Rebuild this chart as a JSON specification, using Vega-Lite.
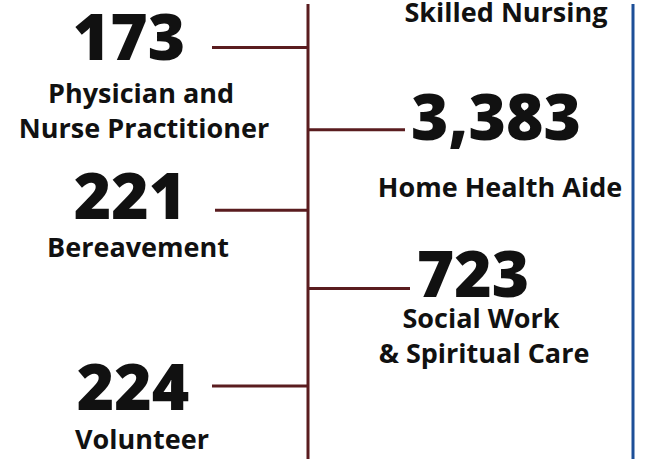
{
  "$schema": "https://vega.github.io/schema/vega-lite/v6.json",
  "width": 645,
  "height": 461,
  "autosize": {"type": "fit", "contains": "padding"},
  "padding": 0,
  "background": "white",
  "config": {"view": {"stroke": null}},
  "datasets": {
    "roles": [
      {"role": "Skilled Nursing", "count": null, "side": "right", "step": 0, "reach": 1.0},
      {"role": "Physician and Nurse Practitioner", "count": 173, "side": "left", "step": 1, "reach": -0.96},
      {"role": "Home Health Aide", "count": 3383, "side": "right", "step": 2.02, "reach": 0.97},
      {"role": "Bereavement", "count": 221, "side": "left", "step": 3.02, "reach": -0.93},
      {"role": "Social Work & Spiritual Care", "count": 723, "side": "right", "step": 3.99, "reach": 1.02},
      {"role": "Volunteer", "count": 224, "side": "left", "step": 5.2, "reach": -0.96}
    ],
    "texts": [
      {"role": "Skilled Nursing", "kind": "label", "text": "Skilled Nursing", "x": 1.98, "y": 0.69},
      {"role": "Physician and Nurse Practitioner", "kind": "number", "text": "173", "x": -1.79, "y": 1.159},
      {"role": "Physician and Nurse Practitioner", "kind": "label", "text": "Physician and", "x": -1.67, "y": 1.686},
      {"role": "Physician and Nurse Practitioner", "kind": "label", "text": "Nurse Practitioner", "x": -1.64, "y": 2.126},
      {"role": "Home Health Aide", "kind": "number", "text": "3,383", "x": 1.88, "y": 2.151},
      {"role": "Home Health Aide", "kind": "label", "text": "Home Health Aide", "x": 1.92, "y": 2.861},
      {"role": "Bereavement", "kind": "number", "text": "221", "x": -1.78, "y": 3.13},
      {"role": "Bereavement", "kind": "label", "text": "Bereavement", "x": -1.7, "y": 3.596},
      {"role": "Social Work & Spiritual Care", "kind": "number", "text": "723", "x": 1.65, "y": 4.098},
      {"role": "Social Work & Spiritual Care", "kind": "label", "text": "Social Work", "x": 1.73, "y": 4.477},
      {"role": "Social Work & Spiritual Care", "kind": "label", "text": "& Spiritual Care", "x": 1.76, "y": 4.918},
      {"role": "Volunteer", "kind": "number", "text": "224", "x": -1.75, "y": 5.494},
      {"role": "Volunteer", "kind": "label", "text": "Volunteer", "x": -1.66, "y": 5.983}
    ],
    "lines": [
      {"name": "timeline", "pos": 0},
      {"name": "border", "pos": 3.25}
    ]
  },
  "layer": [
    {
      "data": {"name": "lines"},
      "transform": [{"filter": "datum.name === 'timeline'"}],
      "mark": {"type": "rule", "color": "#5a1c1f", "strokeWidth": 3},
      "encoding": {
        "x": {"field": "pos", "type": "quantitative", "scale": {"domain": [-3.08, 3.37], "nice": false, "zero": false}, "axis": null}
      }
    },
    {
      "data": {"name": "lines"},
      "transform": [{"filter": "datum.name === 'border'"}],
      "mark": {"type": "rule", "color": "#1d4f98", "strokeWidth": 3},
      "encoding": {
        "x": {"field": "pos", "type": "quantitative", "axis": null}
      }
    },
    {
      "data": {"name": "roles"},
      "transform": [{"filter": "datum.count != null"}, {"calculate": "0", "as": "spine"}],
      "mark": {"type": "rule", "color": "#5a1c1f", "strokeWidth": 3},
      "encoding": {
        "x": {"field": "spine", "type": "quantitative", "axis": null},
        "x2": {"field": "reach"},
        "y": {"field": "step", "type": "quantitative", "scale": {"domain": [0.461, 6.106], "nice": false, "zero": false, "reverse": true}, "axis": null}
      }
    },
    {
      "data": {"name": "texts"},
      "transform": [{"filter": "datum.kind === 'number'"}],
      "mark": {"type": "text", "font": "Open Sans", "fontWeight": 800, "fontSize": 64, "color": "#111111", "align": "center", "baseline": "alphabetic"},
      "encoding": {
        "x": {"field": "x", "type": "quantitative", "axis": null},
        "y": {"field": "y", "type": "quantitative", "axis": null},
        "text": {"field": "text", "type": "nominal"}
      }
    },
    {
      "data": {"name": "texts"},
      "transform": [{"filter": "datum.kind === 'label'"}],
      "mark": {"type": "text", "font": "Open Sans", "fontWeight": "bold", "fontSize": 27, "color": "#111111", "align": "center", "baseline": "alphabetic"},
      "encoding": {
        "x": {"field": "x", "type": "quantitative", "axis": null},
        "y": {"field": "y", "type": "quantitative", "axis": null},
        "text": {"field": "text", "type": "nominal"}
      }
    }
  ]
}
